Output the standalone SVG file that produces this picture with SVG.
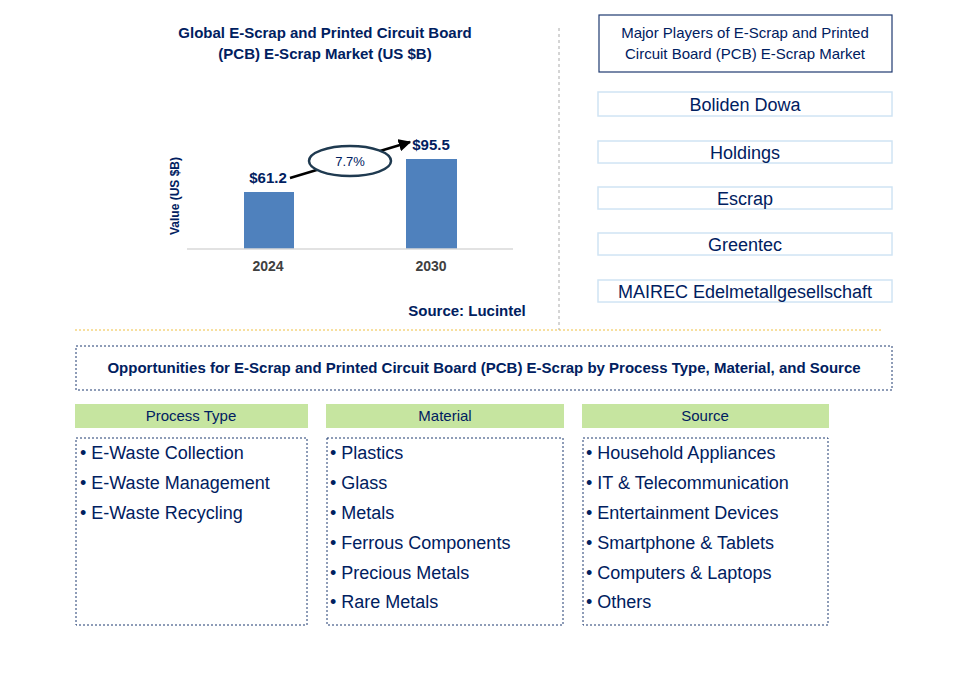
<svg xmlns="http://www.w3.org/2000/svg" width="957" height="686" viewBox="0 0 957 686">
<defs>
<style>
text{font-family:"Liberation Sans",Arial,sans-serif;fill:#002060}
.b{font-weight:bold}
.pl{fill:#fff;stroke:#d0e4f4;stroke-width:1.5}
.hd{fill:#c6e5a0}
.lst{fill:#fff;stroke:#1f3a70;stroke-width:1;stroke-dasharray:2,2}
.it{font-size:18px}
</style>
<marker id="ah" viewBox="0 0 10 10" refX="9" refY="5" markerWidth="5" markerHeight="5" orient="auto"><path d="M0,0L10,5L0,10z" fill="#000"/></marker>
</defs>
<rect width="957" height="686" fill="#fff"/>
<g id="chart">
<text class="b" x="325" y="38" font-size="15" text-anchor="middle">Global E-Scrap and Printed Circuit Board</text>
<text class="b" x="325" y="59" font-size="15" text-anchor="middle">(PCB) E-Scrap Market (US $B)</text>
<text class="b" x="179" y="196" font-size="12" text-anchor="middle" transform="rotate(-90 179 196)">Value (US $B)</text>
<rect x="244" y="192" width="50" height="57" fill="#4f81bd"/>
<rect x="406" y="159" width="51" height="90" fill="#4f81bd"/>
<line x1="187" y1="249" x2="513" y2="249" stroke="#d9d9d9" stroke-width="1.5"/>
<text class="b" x="268" y="183" font-size="15" text-anchor="middle">$61.2</text>
<text class="b" x="431" y="150" font-size="15" text-anchor="middle">$95.5</text>
<text class="b" x="268" y="271" font-size="14" text-anchor="middle" style="fill:#404040">2024</text>
<text class="b" x="431" y="271" font-size="14" text-anchor="middle" style="fill:#404040">2030</text>
<text class="b" x="467" y="316" font-size="15" text-anchor="middle">Source: Lucintel</text>
</g>
<g id="connectors">
<line x1="290" y1="178" x2="410" y2="142" stroke="#000" stroke-width="2.5" marker-end="url(#ah)"/>
<ellipse cx="350" cy="161" rx="41" ry="15" fill="#fff" stroke="#1f3a50" stroke-width="2.5"/>
<text x="350" y="166" font-size="13" text-anchor="middle">7.7%</text>
<line x1="559" y1="28" x2="559" y2="330" stroke="#aaa" stroke-dasharray="3,3"/>
<line x1="75" y1="330" x2="883" y2="330" stroke="#f0c040" stroke-dasharray="2,2"/>
</g>
<g id="players">
<rect x="599" y="15" width="293" height="57" fill="#fff" stroke="#1f3a70" stroke-width="1.2"/>
<text x="745" y="38" font-size="15" text-anchor="middle">Major Players of E-Scrap and Printed</text>
<text x="745" y="59" font-size="15" text-anchor="middle">Circuit Board (PCB) E-Scrap Market</text>
<rect class="pl" x="598" y="92" width="294" height="24"/><text x="745" y="111" font-size="18" text-anchor="middle">Boliden Dowa</text>
<rect class="pl" x="598" y="141" width="294" height="22"/><text x="745" y="159" font-size="18" text-anchor="middle">Holdings</text>
<rect class="pl" x="598" y="187" width="294" height="22"/><text x="745" y="205" font-size="18" text-anchor="middle">Escrap</text>
<rect class="pl" x="598" y="233" width="294" height="22"/><text x="745" y="251" font-size="18" text-anchor="middle">Greentec</text>
<rect class="pl" x="598" y="280" width="294" height="22"/><text x="745" y="298" font-size="18" text-anchor="middle">MAIREC Edelmetallgesellschaft</text>
</g>
<g id="opps">
<rect class="lst" x="76" y="346" width="816" height="44"/>
<text class="b" x="484" y="373" font-size="15" text-anchor="middle">Opportunities for E-Scrap and Printed Circuit Board (PCB) E-Scrap by Process Type, Material, and Source</text>
</g>
<g id="process">
<rect class="hd" x="75" y="404" width="233" height="24"/><text x="191" y="421" font-size="15" text-anchor="middle">Process Type</text>
<rect class="lst" x="76" y="438" width="231" height="187"/>
<text class="it" x="80" y="459">• E-Waste Collection</text>
<text class="it" x="80" y="489">• E-Waste Management</text>
<text class="it" x="80" y="519">• E-Waste Recycling</text>
</g>
<g id="material">
<rect class="hd" x="326" y="404" width="238" height="24"/><text x="445" y="421" font-size="15" text-anchor="middle">Material</text>
<rect class="lst" x="327" y="438" width="236" height="187"/>
<text class="it" x="330" y="459">• Plastics</text>
<text class="it" x="330" y="489">• Glass</text>
<text class="it" x="330" y="519">• Metals</text>
<text class="it" x="330" y="549">• Ferrous Components</text>
<text class="it" x="330" y="579">• Precious Metals</text>
<text class="it" x="330" y="608">• Rare Metals</text>
</g>
<g id="source">
<rect class="hd" x="582" y="404" width="247" height="24"/><text x="705" y="421" font-size="15" text-anchor="middle">Source</text>
<rect class="lst" x="583" y="438" width="245" height="187"/>
<text class="it" x="586" y="459">• Household Appliances</text>
<text class="it" x="586" y="489">• IT &amp; Telecommunication</text>
<text class="it" x="586" y="519">• Entertainment Devices</text>
<text class="it" x="586" y="549">• Smartphone &amp; Tablets</text>
<text class="it" x="586" y="579">• Computers &amp; Laptops</text>
<text class="it" x="586" y="608">• Others</text>
</g>
</svg>
